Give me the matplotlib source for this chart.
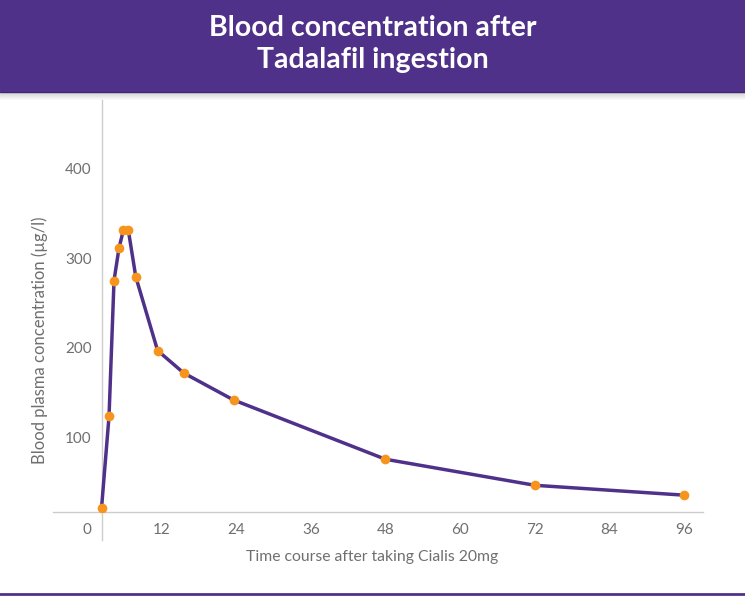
import matplotlib.pyplot as plt
from matplotlib.patches import Rectangle
from matplotlib.lines import Line2D

# hours after dose and plasma level
times = [2.4, 3.6, 4.4, 5.2, 5.9, 6.7, 7.9, 11.4, 15.6, 23.6, 48, 72, 96]
conc = [22, 124, 275, 311, 331, 331, 279, 197, 172, 142, 76, 47, 36]
x_ticks = [0, 12, 24, 36, 48, 60, 72, 84, 96]
y_ticks = [100, 200, 300, 400]

title = "Blood concentration after\nTadalafil ingestion"
x_label = "Time course after taking Cialis 20mg"
y_label = "Blood plasma concentration (µg/l)"

purple = "#4f3189"
orange = "#f7941d"
grey = "#6f6f6f"

W, H = 745, 596
fig = plt.figure(figsize=(W / 100, H / 100), dpi=100)

# header band with a soft shadow underneath
fig.patches.append(Rectangle((0, 1 - 92 / H), 1, 92 / H, transform=fig.transFigure,
                             color=purple, zorder=0))
for i in range(8):
    a = 0.18 * (1 - i / 8)
    fig.patches.append(Rectangle((0, 1 - (93 + i) / H), 1, 1 / H, transform=fig.transFigure,
                                 color="black", alpha=a, lw=0, zorder=0))
fig.text(0.5, 1 - 44 / H, title, ha="center", va="center", color="white",
         fontsize=20.5, family="Lato", weight="bold", linespacing=1.25)

# bottom purple rule
fig.add_artist(Line2D([0, 1], [1 - 594 / H, 1 - 594 / H], transform=fig.transFigure,
                      color=purple, lw=2))

ax = fig.add_axes([53 / W, 1 - 511.7 / H, 650 / W, 411.7 / H])
ax.plot(times, conc, color=purple, lw=2.5, zorder=3)
ax.plot(times, conc, "o", color=orange, ms=7, mec="none", zorder=4)

ax.set_xlim(-5.4, 99.0)
ax.set_ylim(17.6, 476)
ax.set_xticks(x_ticks)
ax.set_yticks(y_ticks)

for s in ["top", "right", "left"]:
    ax.spines[s].set_visible(False)
ax.spines["bottom"].set_color("#cccccc")
ax.spines["bottom"].set_linewidth(1)

ax.tick_params(axis="x", length=0, pad=8, labelsize=11, labelcolor=grey)
ax.tick_params(axis="y", length=0, pad=-28, labelsize=11, labelcolor=grey)
for lab in ax.get_xticklabels() + ax.get_yticklabels():
    lab.set_family("Lato")

# vertical axis line at the first sample, running below the baseline
ax.plot([times[0], times[0]], [-14, 476], color="#cccccc", lw=1, clip_on=False, zorder=1)

fig.text(372 / W, 1 - 557 / H, x_label, ha="center", va="center",
         color=grey, fontsize=11.3, family="Lato")
fig.text(40 / W, 1 - 340 / H, y_label, ha="center", va="center", rotation=90,
         color=grey, fontsize=12, family="Lato")

fig.savefig("out.png", dpi=100)
